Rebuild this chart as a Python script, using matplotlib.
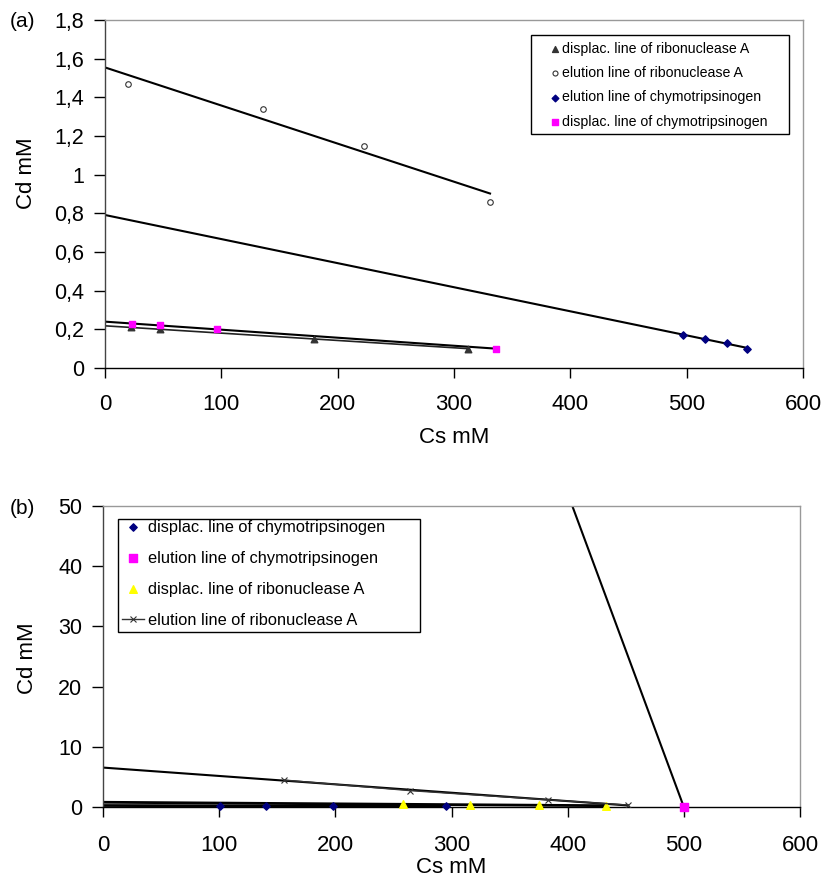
import numpy as np
import matplotlib
matplotlib.use('Agg')
from matplotlib import pyplot as plt
from matplotlib.patches import Rectangle
from matplotlib.ticker import FuncFormatter

plt.rcParams['font.family'] = ['Liberation Sans', 'DejaVu Sans']

# --- (a) data ---
a_rib_disp_x = [22, 47, 180, 312]
a_rib_disp_y = [0.21, 0.20, 0.15, 0.10]
a_rib_elu_x = [20, 136, 223, 331]
a_rib_elu_y = [1.47, 1.34, 1.15, 0.86]
a_chy_elu_x = [497, 516, 535, 552]
a_chy_elu_y = [0.17, 0.15, 0.13, 0.10]
a_chy_disp_x = [23, 47, 96, 336]
a_chy_disp_y = [0.23, 0.22, 0.20, 0.10]

# --- (b) data ---
b_chy_disp_x = [101, 140, 198, 295]
b_chy_disp_y = [0.20, 0.18, 0.15, 0.10]
b_chy_elu_x = [500]
b_chy_elu_y = [0]
b_chy_elu_line_x = [404, 500]
b_chy_elu_line_y = [50, 0]
b_rib_disp_x = [258, 316, 375, 433]
b_rib_disp_y = [0.45, 0.38, 0.30, 0.22]
b_rib_elu_x = [156, 264, 383, 452]
b_rib_elu_y = [4.48, 2.73, 1.20, 0.33]

XT = 16      # x tick labels
YT = 15.5    # y tick labels
LAB = 16     # axis titles


def trend(ax, x, y, color='black', lw=1.5):
    # linear trendline, forecast back to x=0
    k, b = np.polyfit(x, y, 1)
    xs = np.array([0, max(x)])
    ax.plot(xs, k * xs + b, color=color, lw=lw, zorder=2)


def style(ax, xpad):
    for s in ['top', 'right']:
        ax.spines[s].set_color('#999999')
    ax.spines['left'].set_color('#444444')
    ax.spines['bottom'].set_color('black')
    for s in ax.spines.values():
        s.set_linewidth(1.0)
    ax.tick_params(axis='x', direction='out', length=7, width=1, labelsize=XT, pad=xpad)
    ax.tick_params(axis='y', direction='out', length=8, width=1, labelsize=YT, pad=7)
    ax.set_xlim(0, 600)
    ax.set_xticks(range(0, 601, 100))


def box(ax, x0, y0, x1, y1):
    ax.add_patch(Rectangle((x0, y0), x1 - x0, y1 - y0, transform=ax.transAxes,
                           fill=False, edgecolor='black', lw=1.0, zorder=5))


comma = FuncFormatter(lambda v, p: ('%g' % round(v, 3)).replace('.', ','))

fig = plt.figure(figsize=(8.24, 8.82), dpi=100)

# ---------- (a) ----------
ax1 = fig.add_axes([0.1274, 0.5828, 0.8471, 0.3945])
style(ax1, 11.5)
ax1.set_ylim(0, 1.8)
ax1.set_yticks(np.arange(0, 1.81, 0.2))
ax1.yaxis.set_major_formatter(comma)

trend(ax1, a_rib_disp_x, a_rib_disp_y, color='#222222', lw=1.2)
trend(ax1, a_rib_elu_x, a_rib_elu_y)
trend(ax1, a_chy_elu_x, a_chy_elu_y)
trend(ax1, a_chy_disp_x, a_chy_disp_y)

ax1.scatter(a_rib_disp_x, a_rib_disp_y, marker='^', s=22, color='#333333',
            label='displac. line of ribonuclease A', zorder=3)
ax1.scatter(a_rib_elu_x, a_rib_elu_y, marker='o', s=16, facecolor='white',
            edgecolor='#333333', linewidth=0.8,
            label='elution line of ribonuclease A', zorder=3)
ax1.scatter(a_chy_elu_x, a_chy_elu_y, marker='D', s=14, color='#000080',
            label='elution line of chymotripsinogen', zorder=3)
ax1.scatter(a_chy_disp_x, a_chy_disp_y, marker='s', s=18, color='#ff00ff',
            label='displac. line of chymotripsinogen', zorder=3)

ax1.legend(loc='upper left', bbox_to_anchor=(0.640, 0.937), fontsize=10.2,
           frameon=False, handlelength=0.5, handletextpad=0.25, borderpad=0,
           labelspacing=0.72, borderaxespad=0, markerscale=0.9)
box(ax1, 0.610, 0.672, 0.980, 0.957)

ax1.set_xlabel('Cs mM', fontsize=LAB, labelpad=9)
ax1.set_ylabel('Cd mM', fontsize=LAB)
ax1.yaxis.set_label_coords(-0.097, 0.56)
fig.text(0.012, 0.976, '(a)', fontsize=15, va='center')

# ---------- (b) ----------
ax2 = fig.add_axes([0.125, 0.0850, 0.8459, 0.3413])
style(ax2, 13)
ax2.set_ylim(0, 50)
ax2.set_yticks(range(0, 51, 10))

trend(ax2, b_chy_disp_x, b_chy_disp_y, lw=2)
trend(ax2, b_rib_disp_x, b_rib_disp_y, lw=2)
trend(ax2, b_rib_elu_x, b_rib_elu_y)
ax2.plot(b_chy_elu_line_x, b_chy_elu_line_y, color='black', lw=1.5, zorder=2)

ax2.scatter(b_chy_disp_x, b_chy_disp_y, marker='D', s=14, color='#000080',
            label='displac. line of chymotripsinogen', zorder=3, clip_on=False)
ax2.scatter(b_chy_elu_x, b_chy_elu_y, marker='s', s=30, color='#ff00ff',
            label='elution line of chymotripsinogen', zorder=3, clip_on=False)
ax2.scatter(b_rib_disp_x, b_rib_disp_y, marker='^', s=30, color='#ffff00',
            label='displac. line of ribonuclease A', zorder=3, clip_on=False)
ax2.plot(b_rib_elu_x, b_rib_elu_y, marker='x', ms=4, mew=0.8, color='#333333',
         lw=1, label='elution line of ribonuclease A', zorder=3)

ax2.legend(loc='upper left', bbox_to_anchor=(0.0273, 0.955), fontsize=11.8,
           frameon=False, handlelength=1.34, handletextpad=0.25, borderpad=0,
           labelspacing=0.98, borderaxespad=0)
box(ax2, 0.0215, 0.581, 0.455, 0.957)

ax2.set_xlabel('Cs mM', fontsize=LAB, labelpad=1)
ax2.set_ylabel('Cd mM', fontsize=LAB)
ax2.yaxis.set_label_coords(-0.093, 0.495)
fig.text(0.012, 0.423, '(b)', fontsize=15, va='center')

fig.savefig('out.png', dpi=100)
